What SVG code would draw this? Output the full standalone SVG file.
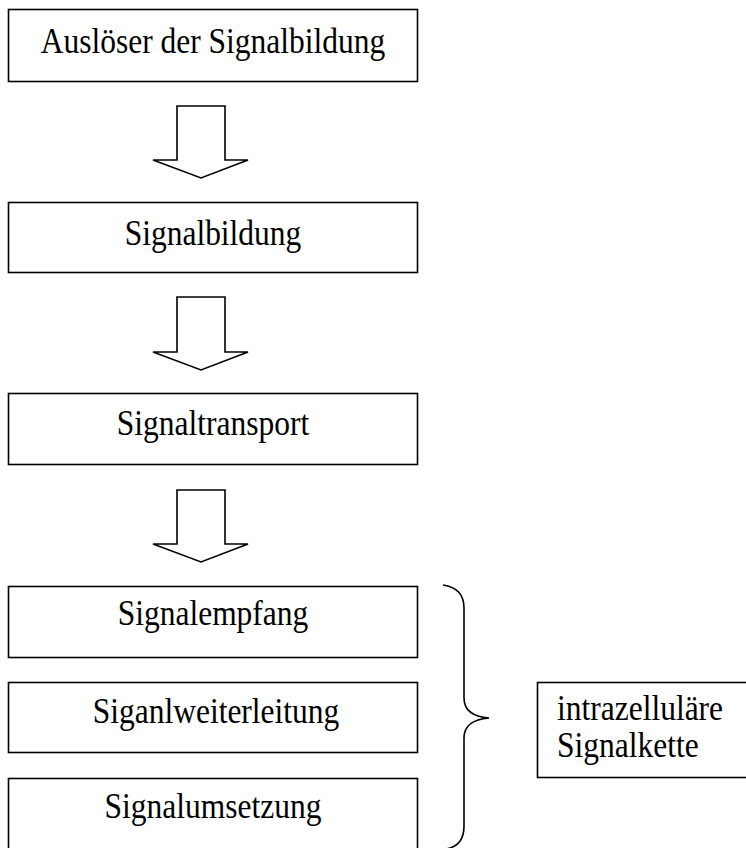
<svg xmlns="http://www.w3.org/2000/svg" width="746" height="848" viewBox="0 0 746 848">
<style>
.box{fill:#fff;stroke:#000;stroke-width:1.6}
.arr{fill:#fff;stroke:#000;stroke-width:1.6;stroke-linejoin:miter}
.t{font-family:"Liberation Serif","Times New Roman",serif;font-size:35px;fill:#000}
.c{text-anchor:middle}
</style>
<rect width="746" height="848" fill="#fff"/>
<g id="n1"><rect class="box" x="8.5" y="9.5" width="409" height="72"/><text class="t c" transform="translate(213 53) scale(0.9 1)">Auslöser der Signalbildung</text></g>
<g id="n2"><rect class="box" x="8.5" y="202.5" width="409" height="70"/><text class="t c" transform="translate(213 245) scale(0.9 1)">Signalbildung</text></g>
<g id="n3"><rect class="box" x="8.5" y="393.5" width="409" height="71"/><text class="t c" transform="translate(213 435) scale(0.9 1)">Signaltransport</text></g>
<g id="n4"><rect class="box" x="8.5" y="586.5" width="409" height="71"/><text class="t c" transform="translate(213 625) scale(0.9 1)">Signalempfang</text></g>
<g id="n5"><rect class="box" x="8.5" y="682.5" width="409" height="70"/><text class="t c" transform="translate(216 723) scale(0.9 1)">Siganlweiterleitung</text></g>
<g id="n6"><rect class="box" x="8.5" y="778.5" width="409" height="80"/><text class="t c" transform="translate(213 818) scale(0.9 1)">Signalumsetzung</text></g>
<g id="n7"><rect class="box" x="537.5" y="682.5" width="220" height="95"/><text class="t" transform="translate(557 720) scale(0.9 1)">intrazelluläre</text><text class="t" transform="translate(557 757) scale(0.9 1)">Signalkette</text></g>
<g id="connectors">
<path class="arr" d="M177 106 H225 V160 H248 L201 178 L153 160 H177 Z"/>
<path class="arr" d="M177 297 H225 V352 H248 L201 370 L153 352 H177 Z"/>
<path class="arr" d="M177 490 H225 V544 H248 L201 562 L153 544 H177 Z"/>
<path d="M443 585 Q464 588 464 608 L464 698 Q464 716 489 718 Q464 720 464 738 L464 826 Q464 846 446 849" fill="none" stroke="#000" stroke-width="1.6"/>
</g>
</svg>
